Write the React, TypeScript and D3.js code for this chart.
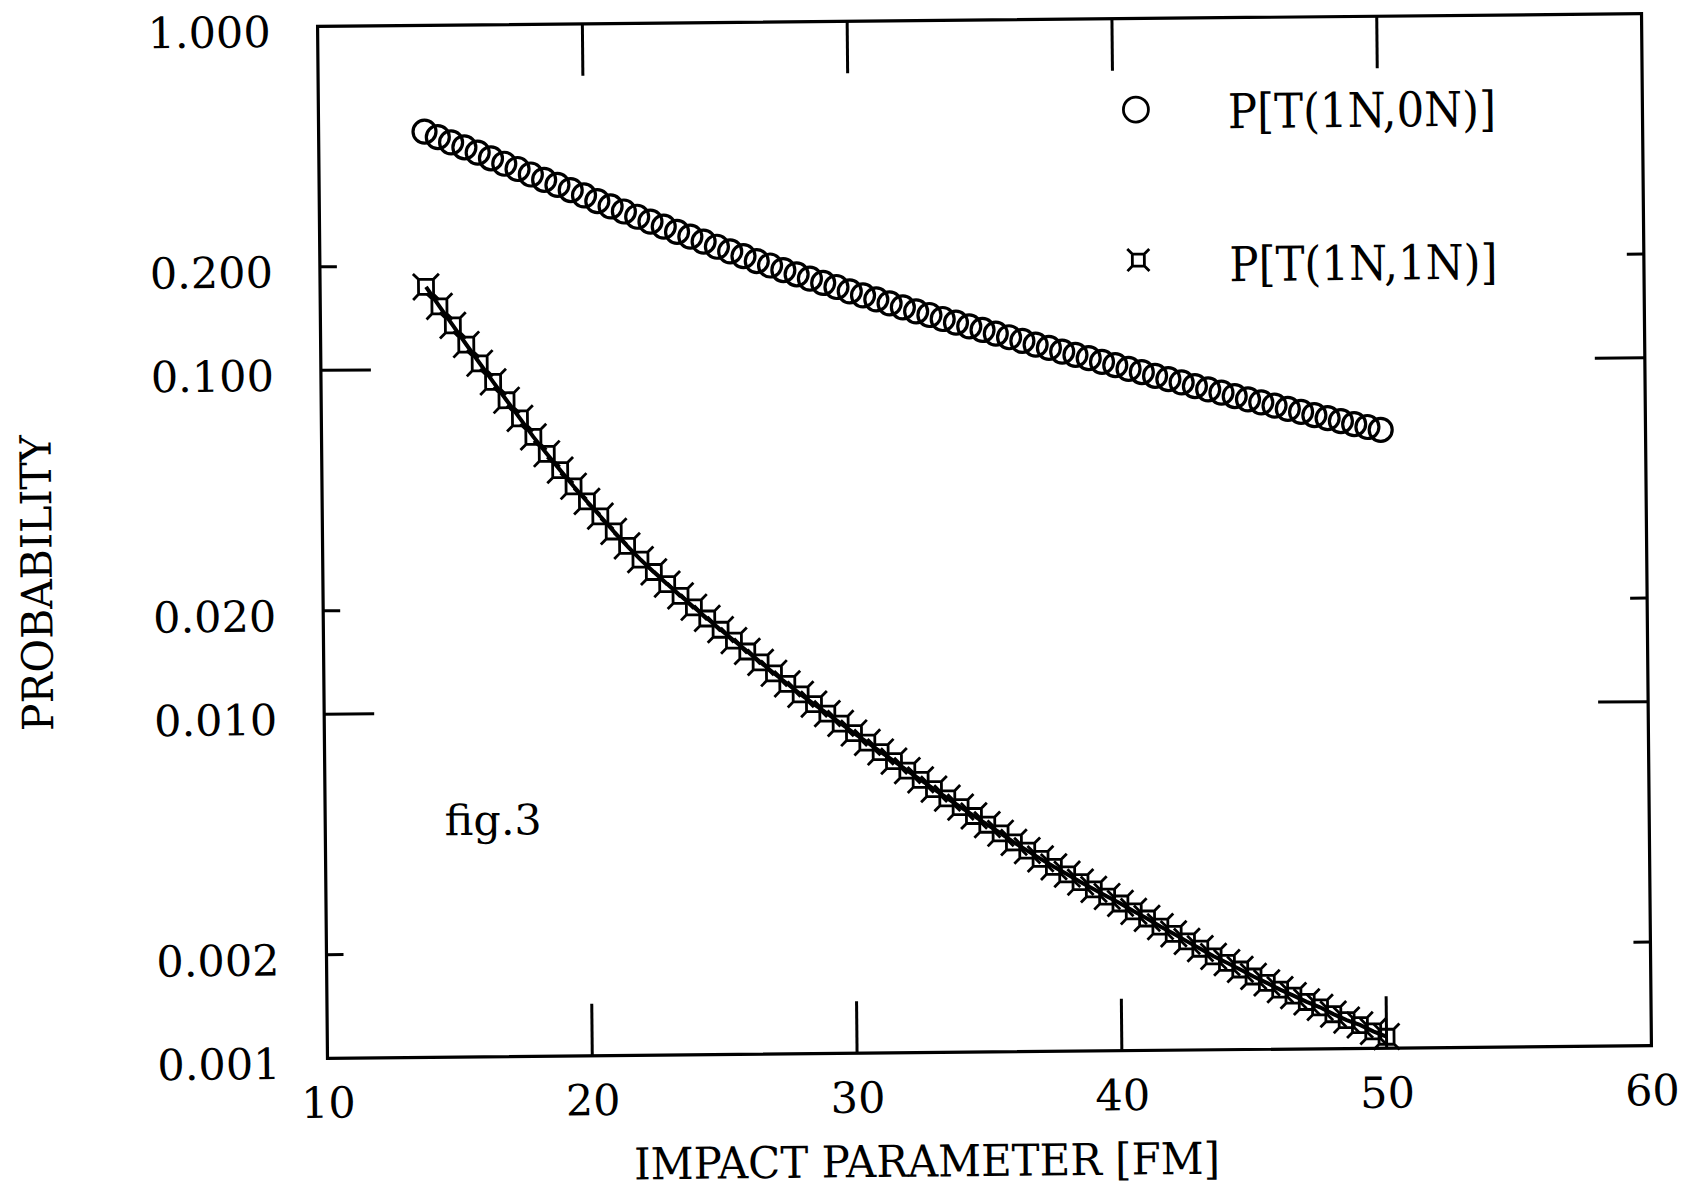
import { useEffect, useRef } from "react";
import * as d3 from "d3";

// impact parameter [fm], one marker every 0.5 fm
const impactParams = [
  14, 14.5, 15, 15.5, 16, 16.5, 17, 17.5, 18, 18.5, 19, 19.5, 20, 20.5, 21,
  21.5, 22, 22.5, 23, 23.5, 24, 24.5, 25, 25.5, 26, 26.5, 27, 27.5, 28, 28.5,
  29, 29.5, 30, 30.5, 31, 31.5, 32, 32.5, 33, 33.5, 34, 34.5, 35, 35.5, 36,
  36.5, 37, 37.5, 38, 38.5, 39, 39.5, 40, 40.5, 41, 41.5, 42, 42.5, 43, 43.5,
  44, 44.5, 45, 45.5, 46, 46.5, 47, 47.5, 48, 48.5, 49, 49.5, 50,
];

// P[T(1N,0N)] (circles)
const probT10 = [
  0.491, 0.473, 0.456, 0.441, 0.425, 0.409, 0.394, 0.38, 0.366, 0.353, 0.341,
  0.329, 0.317, 0.305, 0.294, 0.284, 0.274, 0.265, 0.256, 0.247, 0.239, 0.231,
  0.223, 0.216, 0.209, 0.202, 0.196, 0.19, 0.1845, 0.179, 0.1738, 0.169, 0.164,
  0.1596, 0.1552, 0.151, 0.1469, 0.1429, 0.1393, 0.1355, 0.1321, 0.1288,
  0.1256, 0.1225, 0.1194, 0.1164, 0.1135, 0.1109, 0.1081, 0.1057, 0.1033,
  0.1007, 0.0984, 0.0959, 0.0938, 0.0914, 0.0893, 0.0873, 0.0851, 0.0832,
  0.0813, 0.0794, 0.0776, 0.076, 0.0743, 0.0726, 0.0711, 0.0695, 0.0681,
  0.0667, 0.0653, 0.064, 0.0627,
];

// P[T(1N,1N)] (squares)
const probT11 = [
  0.1738, 0.1524, 0.134, 0.1178, 0.1038, 0.0916, 0.0809, 0.0716, 0.0632,
  0.0564, 0.0505, 0.0453, 0.0409, 0.037, 0.0334, 0.0303, 0.0276, 0.0254,
  0.0234, 0.0216, 0.02, 0.01854, 0.01718, 0.01596, 0.01483, 0.01377, 0.01279,
  0.01191, 0.01109, 0.01038, 0.00973, 0.0091, 0.00853, 0.008, 0.0075, 0.00705,
  0.00661, 0.00621, 0.00583, 0.00548, 0.00516, 0.00486, 0.00458, 0.00432,
  0.00406, 0.00384, 0.00363, 0.00344, 0.00327, 0.0031, 0.00295, 0.00281,
  0.00268, 0.00254, 0.00242, 0.00229, 0.00218, 0.00207, 0.00197, 0.00187,
  0.00179, 0.00171, 0.00163, 0.00156, 0.00149, 0.00143, 0.00137, 0.00132,
  0.00126, 0.00121, 0.00117, 0.00112, 0.00108,
];

const xTicks = [10, 20, 30, 40, 50, 60];
const yTicks = [1, 0.2, 0.1, 0.02, 0.01, 0.002, 0.001];
const yTickLabels = ["1.000", "0.200", "0.100", "0.020", "0.010", "0.002", "0.001"];
const legendLabels = ["P[T(1N,0N)]", "P[T(1N,1N)]"];

const FONT = "'DejaVu Serif', serif";

// square with little spurs out of each corner
const squareMarker = (s: number, spur: number) =>
  `M${-s},${-s}H${s}V${s}H${-s}Z` +
  `M${-s},${-s}L${-spur},${-spur}M${s},${-s}L${spur},${-spur}` +
  `M${s},${s}L${spur},${spur}M${-s},${s}L${-spur},${spur}`;

export default function App() {
  const svgRef = useRef<SVGSVGElement>(null);

  useEffect(() => {
    const width = 1686;
    const height = 1190;
    const margin = { top: 20, right: 39.5, bottom: 138, left: 322.5 };

    const svg = d3.select(svgRef.current);
    svg.selectAll("*").remove();
    svg.attr("width", width).attr("height", height).style("background", "#fff");

    // the scanned figure is tilted slightly
    const g = svg.append("g").attr("transform", "rotate(-0.55 984.5 536)");

    const xScale = d3
      .scaleLinear()
      .domain([10, 60])
      .range([margin.left, width - margin.right]);

    const yScale = d3
      .scaleLog()
      .domain([0.001, 1])
      .range([height - margin.bottom, margin.top]);

    const x0 = xScale.range()[0];
    const x1 = xScale.range()[1];
    const y0 = yScale.range()[0];
    const y1 = yScale.range()[1];

    // frame
    g.append("rect")
      .attr("x", x0)
      .attr("y", y1)
      .attr("width", x1 - x0)
      .attr("height", y0 - y1)
      .attr("fill", "none")
      .attr("stroke", "#000")
      .attr("stroke-width", 3.2);

    // inward x ticks, top and bottom
    const innerX = xTicks.slice(1, -1);
    g.selectAll(".xtick-b")
      .data(innerX)
      .enter()
      .append("line")
      .attr("x1", (d) => xScale(d))
      .attr("x2", (d) => xScale(d))
      .attr("y1", y0)
      .attr("y2", y0 - 52)
      .attr("stroke", "#000")
      .attr("stroke-width", 3);
    g.selectAll(".xtick-t")
      .data(innerX)
      .enter()
      .append("line")
      .attr("x1", (d) => xScale(d))
      .attr("x2", (d) => xScale(d))
      .attr("y1", y1)
      .attr("y2", y1 + 52)
      .attr("stroke", "#000")
      .attr("stroke-width", 3);

    // inward y ticks, left and right: decades long, the others short
    const innerY = yTicks.slice(1, -1);
    const tickLen = (d: number) =>
      Math.abs(Math.log10(d) - Math.round(Math.log10(d))) < 1e-6 ? 50 : 17;
    g.selectAll(".ytick-l")
      .data(innerY)
      .enter()
      .append("line")
      .attr("x1", x0)
      .attr("x2", (d) => x0 + tickLen(d))
      .attr("y1", (d) => yScale(d))
      .attr("y2", (d) => yScale(d))
      .attr("stroke", "#000")
      .attr("stroke-width", 3);
    g.selectAll(".ytick-r")
      .data(innerY)
      .enter()
      .append("line")
      .attr("x1", x1)
      .attr("x2", (d) => x1 - tickLen(d))
      .attr("y1", (d) => yScale(d))
      .attr("y2", (d) => yScale(d))
      .attr("stroke", "#000")
      .attr("stroke-width", 3);

    // tick labels
    const xAxis = d3
      .axisBottom(xScale)
      .tickValues(xTicks)
      .tickSize(0)
      .tickPadding(29)
      .tickFormat((d) => String(d));
    const gx = g.append("g").attr("transform", `translate(0, ${y0})`).call(xAxis);
    gx.select(".domain").remove();
    gx.selectAll("text")
      .attr("font-family", FONT)
      .attr("font-size", 43)
      .attr("fill", "#000");

    const yAxis = d3
      .axisLeft(yScale)
      .tickValues(yTicks)
      .tickSize(0)
      .tickPadding(47)
      .tickFormat((_d, i) => yTickLabels[i]);
    const gy = g.append("g").attr("transform", `translate(${x0}, 0)`).call(yAxis);
    gy.select(".domain").remove();
    gy.selectAll("text")
      .attr("font-family", FONT)
      .attr("font-size", 43)
      .attr("dy", "0.46em")
      .attr("fill", "#000");

    // P[T(1N,1N)] line and markers
    const pts11 = impactParams.map((x, i) => [x, probT11[i]] as [number, number]);
    const line = d3
      .line<[number, number]>()
      .x((d) => xScale(d[0]))
      .y((d) => yScale(d[1]));
    g.append("path")
      .attr("d", line(pts11))
      .attr("fill", "none")
      .attr("stroke", "#000")
      .attr("stroke-width", 4);
    g.selectAll(".sq")
      .data(pts11)
      .enter()
      .append("path")
      .attr("transform", (d) => `translate(${xScale(d[0])}, ${yScale(d[1])})`)
      .attr("d", squareMarker(7.5, 13))
      .attr("fill", "none")
      .attr("stroke", "#000")
      .attr("stroke-width", 2.8);

    // P[T(1N,0N)] circles
    const pts10 = impactParams.map((x, i) => [x, probT10[i]] as [number, number]);
    g.selectAll(".circ")
      .data(pts10)
      .enter()
      .append("circle")
      .attr("cx", (d) => xScale(d[0]))
      .attr("cy", (d) => yScale(d[1]))
      .attr("r", 11.5)
      .attr("fill", "none")
      .attr("stroke", "#000")
      .attr("stroke-width", 3.2);

    // legend
    g.append("circle")
      .attr("cx", 1140)
      .attr("cy", 111)
      .attr("r", 12.5)
      .attr("fill", "none")
      .attr("stroke", "#000")
      .attr("stroke-width", 2.8);
    g.append("path")
      .attr("transform", "translate(1141, 261.5)")
      .attr("d", squareMarker(6, 11))
      .attr("fill", "none")
      .attr("stroke", "#000")
      .attr("stroke-width", 2.8);
    g.selectAll(".legend-text")
      .data(legendLabels)
      .enter()
      .append("text")
      .attr("x", 1232)
      .attr("y", (_d, i) => (i === 0 ? 130.5 : 283.5))
      .attr("font-family", FONT)
      .attr("font-size", 48)
      .attr("textLength", 268)
      .attr("lengthAdjust", "spacingAndGlyphs")
      .text((d) => d);

    // figure tag
    g.append("text")
      .attr("x", 442)
      .attr("y", 830)
      .attr("font-family", FONT)
      .attr("font-size", 42)
      .attr("textLength", 97)
      .attr("lengthAdjust", "spacingAndGlyphs")
      .text("fig.3");

    // X axis label:
    g.append("text")
      .attr("text-anchor", "middle")
      .attr("x", 921)
      .attr("y", 1176)
      .attr("font-family", FONT)
      .attr("font-size", 44)
      .attr("textLength", 586)
      .attr("lengthAdjust", "spacingAndGlyphs")
      .text("IMPACT PARAMETER [FM]");

    // Y axis label:
    g.append("text")
      .attr("text-anchor", "middle")
      .attr("transform", "translate(51.5, 574) rotate(-90)")
      .attr("font-family", FONT)
      .attr("font-size", 43)
      .attr("textLength", 296)
      .attr("lengthAdjust", "spacingAndGlyphs")
      .text("PROBABILITY");
  }, []);

  return (
    <svg
      ref={svgRef}
      style={{ position: "absolute", left: 0, top: 0, display: "block" }}
    ></svg>
  );
}
